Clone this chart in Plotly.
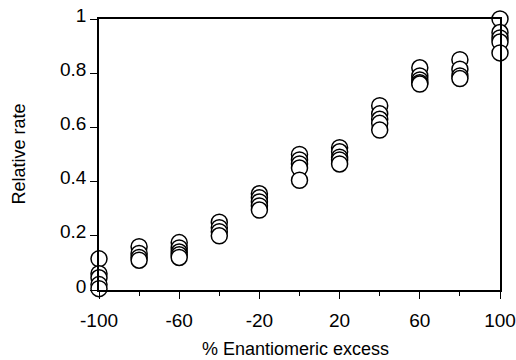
import plotly.graph_objects as go

ee_levels = [-100, -80, -60, -40, -20, 0, 20, 40, 60, 80, 100]
rates = {
    -100: [0.115, 0.06, 0.045, 0.02, 0.005],
    -80: [0.16, 0.135, 0.12, 0.11],
    -60: [0.175, 0.155, 0.14, 0.13, 0.12],
    -40: [0.25, 0.23, 0.215, 0.2],
    -20: [0.355, 0.34, 0.325, 0.31, 0.295],
    0: [0.50, 0.48, 0.465, 0.45, 0.405],
    20: [0.525, 0.51, 0.49, 0.48, 0.465],
    40: [0.68, 0.65, 0.63, 0.615, 0.59],
    60: [0.82, 0.79, 0.775, 0.765, 0.76],
    80: [0.85, 0.815, 0.79, 0.78],
    100: [1.0, 0.95, 0.93, 0.915, 0.875],
}
x_tickvals = [-100, -60, -20, 20, 60, 100]
x_ticktext = ["-100", "-60", "-20", "20", "60", "100"]
y_tickvals = [0, 0.2, 0.4, 0.6, 0.8, 1]
y_ticktext = ["0", "0.2", "0.4", "0.6", "0.8", "1"]
x_title = "% Enantiomeric excess"
y_title = "Relative rate"

xs, ys = [], []
for ee in ee_levels:
    for r in rates[ee]:
        xs.append(ee)
        ys.append(r)

font = dict(family="Liberation Sans, Arial, sans-serif", size=19, color="black")
title_font = dict(family="Liberation Sans, Arial, sans-serif", size=18, color="black")

fig = go.Figure(go.Scatter(
    x=xs, y=ys, mode="markers", cliponaxis=False, hoverinfo="skip",
    marker=dict(size=16, color="white", line=dict(color="black", width=1.5)),
))

fig.update_layout(
    width=516, height=360,
    margin=dict(l=99, r=16, t=19, b=70, autoexpand=False),
    paper_bgcolor="white", plot_bgcolor="white",
    showlegend=False, font=font,
    annotations=[
        dict(text=x_title, xref="paper", yref="paper", x=0.49, y=0,
             xanchor="center", yanchor="middle", yshift=-59, showarrow=False, font=title_font),
        dict(text=y_title, xref="paper", yref="paper", x=0, y=0.5, textangle=-90,
             xanchor="center", yanchor="middle", xshift=-81, showarrow=False, font=title_font),
    ],
)
fig.update_xaxes(
    range=[-100, 100], tickvals=x_tickvals, ticktext=x_ticktext,
    ticks="outside", ticklen=7, tickwidth=1.3, tickcolor="black",
    minor=dict(tickvals=[-80, -40, 0, 40, 80], ticks="outside", ticklen=4, tickwidth=1.3, tickcolor="black"),
    showline=True, linecolor="black", linewidth=1.5, mirror=True,
    showgrid=False, zeroline=False, ticklabelstandoff=5, automargin=False,
)
fig.update_yaxes(
    range=[0, 1], tickvals=y_tickvals, ticktext=y_ticktext,
    ticks="outside", ticklen=7, tickwidth=1.3, tickcolor="black",
    showline=True, linecolor="black", linewidth=1.5, mirror=True,
    showgrid=False, zeroline=False, automargin=False, ticklabelshift=-4,
)

fig.write_html("out.html", config={"displayModeBar": False},
               post_script="document.body.style.margin='0';")
